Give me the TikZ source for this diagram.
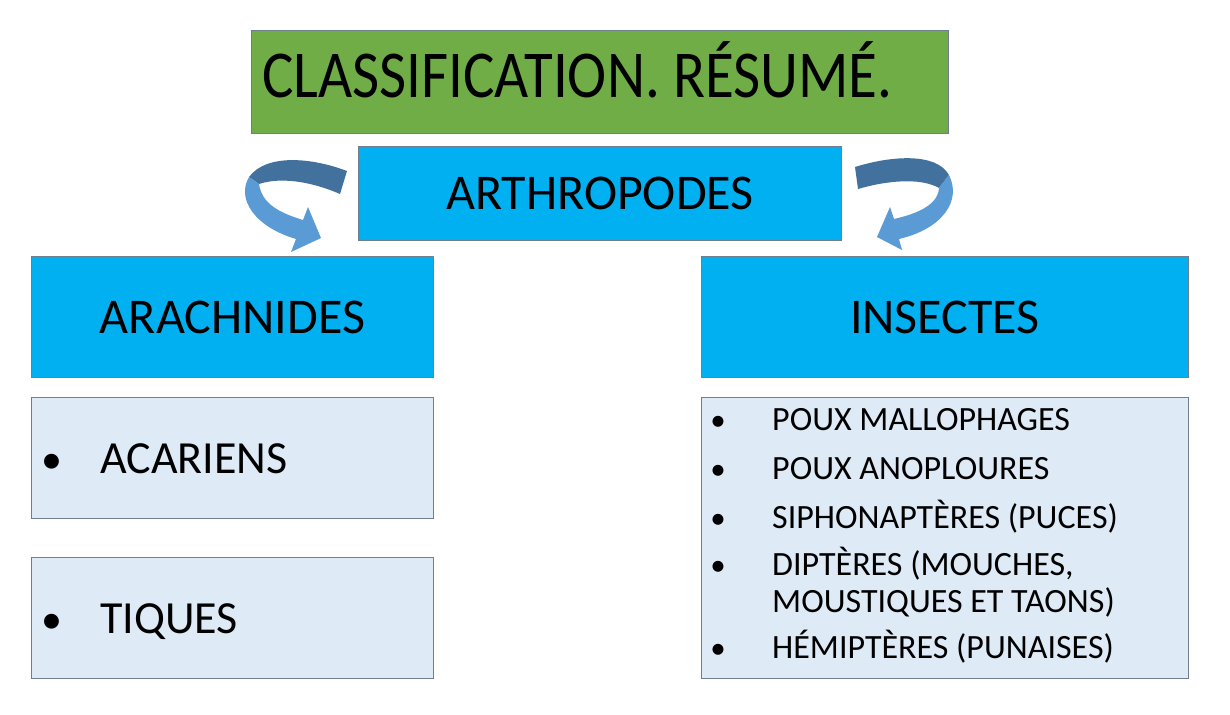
\documentclass[tikz,border=0pt]{standalone}
\usepackage{fontspec}
\setmainfont{Carlito}
\usepackage{graphicx}
\usepackage{tikz}
\usetikzlibrary{positioning}

\definecolor{titlegreen}{HTML}{70AD47}
\definecolor{headblue}{HTML}{00B0F0}
\definecolor{paleblue}{HTML}{DEEBF7}
\definecolor{edgegray}{HTML}{6F7F8F}
\definecolor{arrowdark}{HTML}{41719C}
\definecolor{arrowlight}{HTML}{5B9BD5}

\newcommand{\fsize}[1]{\fontsize{#1}{1.2\dimexpr#1pt\relax}\selectfont}

\begin{document}
\begin{tikzpicture}[x=1pt, y=-1pt,
    box/.style={draw=edgegray, line width=0.9pt, anchor=north west, inner sep=0pt},
    titlebox/.style={box, fill=titlegreen, minimum width=697pt, minimum height=103pt},
    groupbox/.style={box, fill=headblue, minimum height=121pt},
    listbox/.style={box, fill=paleblue},
    item/.style={anchor=base west, inner sep=0pt, font=\fsize{34}},
    dot/.style={anchor=base, inner sep=0pt, font=\fsize{31}}]
    \useasboundingbox[fill=white] (0,0) rectangle (1230,714);

    % boxes
    \node[titlebox] (title) at (251,30) {};
    \node[box, fill=headblue, minimum width=483pt, minimum height=94pt] (arthro) at (358,146) {};
    \node[groupbox, minimum width=402pt] (arach) at (31,256) {};
    \node[groupbox, minimum width=487pt] (insect) at (701,256) {};
    \node[listbox, minimum width=402pt, minimum height=121pt] (acar) at (31,397) {};
    \node[listbox, minimum width=402pt, minimum height=121pt] (tiq) at (31,557) {};
    \node[listbox, minimum width=487pt, minimum height=281pt] (inslist) at (701,397) {};

    % labels
    \node[anchor=base west, inner sep=0pt, font=\fsize{67}] (titletxt) at (262,98) {\scalebox{0.88}[1]{CLASSIFICATION. RÉSUMÉ.}};
    \node[font=\fsize{50}] (arthrotxt) at (arthro.center) {ARTHROPODES};
    \node[font=\fsize{50}] (arachtxt) at (arach.center) {ARACHNIDES};
    \node[font=\fsize{50}] (insecttxt) at (insect.center) {INSECTES};

    \node[dot, font=\fsize{42}] (b1) at (52,473) {•};
    \node[anchor=base west, inner sep=0pt, font=\fsize{46}] (acartxt) at (100,473) {ACARIENS};
    \node[dot, font=\fsize{42}] (b2) at (52,633) {•};
    \node[anchor=base west, inner sep=0pt, font=\fsize{46}] (tiqtxt) at (100,633) {TIQUES};

    \node[dot] (c1) at (718,430) {•};
    \node[item] (i1) at (772,430) {POUX MALLOPHAGES};
    \node[dot] (c2) at (718,479) {•};
    \node[item] (i2) at (772,479) {POUX ANOPLOURES};
    \node[dot] (c3) at (718,528) {•};
    \node[item] (i3) at (772,528) {SIPHONAPTÈRES (PUCES)};
    \node[dot] (c4) at (718,575) {•};
    \node[item] (i4) at (772,575) {DIPTÈRES (MOUCHES,};
    \node[item] (i4b) at (772,612) {MOUSTIQUES ET TAONS)};
    \node[dot] (c5) at (718,658) {•};
    \node[item] (i5) at (772,658) {HÉMIPTÈRES (PUNAISES)};

    % curved arrows
    \fill[arrowdark] (347,171) .. controls (310,157) and (266,154) .. (249,177)
        -- (259,184) .. controls (280,177) and (310,181) .. (340,194) -- cycle;
    \fill[arrowlight] (249,177) .. controls (236,199) and (255,227) .. (296,239)
        -- (291,252) -- (321,238) -- (308,207) -- (303,220)
        .. controls (277,212) and (262,203) .. (259,184) -- cycle;

    \fill[arrowdark] (855,167) .. controls (890,156) and (936,152) .. (949,175)
        -- (939,188) .. controls (920,177) and (885,181) .. (858,189) -- cycle;
    \fill[arrowlight] (949,175) .. controls (962,201) and (942,229) .. (899,239)
        -- (902,250) -- (877,237) -- (890,207) -- (894,219)
        .. controls (920,213) and (938,204) .. (939,188) -- cycle;
\end{tikzpicture}
\end{document}
